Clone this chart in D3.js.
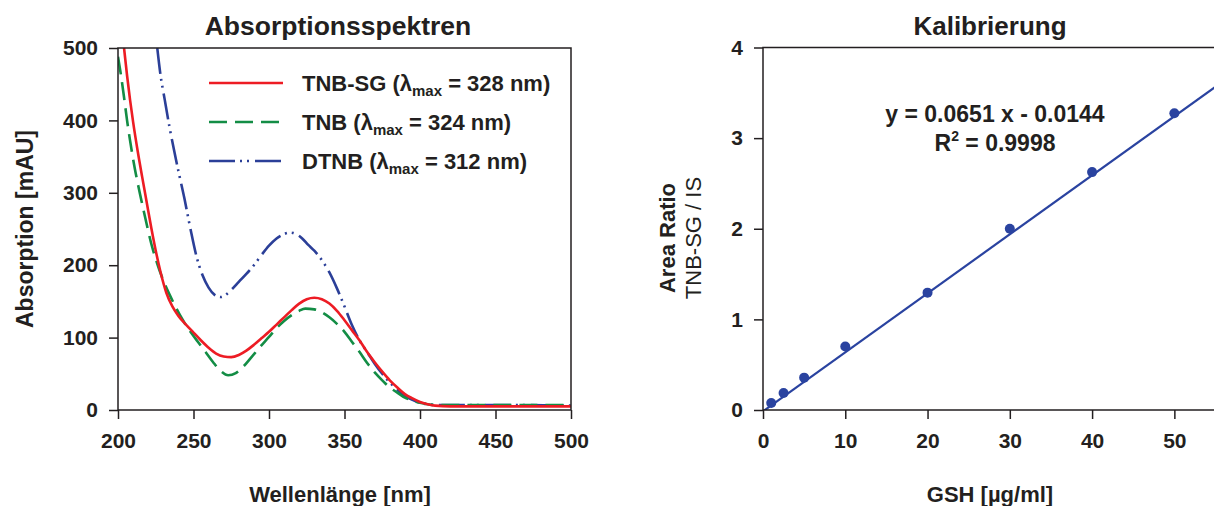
<!DOCTYPE html>
<html><head><meta charset="utf-8">
<script src="https://cdn.jsdelivr.net/npm/d3@7"></script>
<style>
body{margin:0;background:#fff;}
svg{display:block;font-family:"Liberation Sans",Arial,Helvetica,sans-serif;}
</style></head>
<body><svg id="c" width="1214" height="506"></svg>
<script>
// ---------- data: absorption spectra ----------
const tnbsgNm  = [204,206,208,210,213,216,219,222,225,228,232,236,240,245,250,255,260,265,270,275,280,285,290,295,300,305,310,315,320,325,330,335,340,345,350,355,360,365,370,375,380,385,390,395,400,405,410,420,450,500];
const tnbsgAbs = [500,462,428,398,358,322,287,252,220,192,162,143,130,118,107,96,86,78,74,73,76,82,90,99,108,118,128,138,147,153,155,153,147,137,124,110,96,80,66,53,41,31,22,16,11,8,6,5,5,5];
const tnbNm    = [200,202,204,206,208,211,214,218,222,226,230,234,238,243,248,253,258,263,268,273,278,283,288,294,300,305,310,315,320,324,330,335,340,345,350,355,360,365,370,375,380,385,390,395,400,405,410,450,500];
const tnbAbs   = [488,462,432,400,372,335,304,266,230,202,179,160,143,124,108,94,80,66,54,48,51,60,72,87,101,113,123,131,137,140,139,135,128,119,108,94,80,65,52,41,31,24,17,13,10,8,7,7,7];
const dtnbNm   = [226,228,231,234,237,240,244,248,252,256,260,264,268,272,276,280,285,290,295,300,305,310,314,318,322,326,330,335,340,345,350,355,360,365,370,375,380,385,390,395,400,405,410,450,500];
const dtnbAbs  = [500,465,428,392,360,330,292,250,212,186,169,159,156,160,168,177,188,200,214,227,237,243,245,243,237,228,220,207,190,168,143,117,96,80,64,50,38,28,19,14,10,8,7,7,6];
const spectraNames = ["TNB-SG", "TNB", "DTNB"];
const spectraLambda = ["328", "324", "312"];
const specXTicks = [200,250,300,350,400,450,500];
const specYTicks = [0,100,200,300,400,500];

// ---------- data: calibration ----------
const gshConc  = [1,2.5,5,10,20,30,40,50];
const areaRatio = [0.077,0.188,0.357,0.70,1.295,2.0,2.625,3.275];
const fitSlope = 0.0651, fitIntercept = -0.0144;
const calXTicks = [0,10,20,30,40,50];
const calYTicks = [0,1,2,3,4];

const svg = d3.select("#c");
const AX = "#231f20";
const FONT = '"Liberation Sans",Arial,Helvetica,sans-serif';
const colors = ["#ed1c24","#138d45","#2b3f98"];
const dashes = [null,"18,8","26,5,2,5,2,6"];

function styleAxis(g){
  g.selectAll("path.domain").remove();
  g.selectAll("line").attr("stroke",AX).attr("stroke-width",1.5);
  g.selectAll("text").attr("fill",AX).attr("font-size",21).attr("font-weight","bold").attr("font-family",FONT);
}

// ================= left panel =================
{
  const x = d3.scaleLinear().domain([200,500]).range([118,571]);
  const y = d3.scaleLinear().domain([0,500]).range([410,48]);
  const g = svg.append("g");
  g.append("clipPath").attr("id","clipL").append("rect")
    .attr("x",118).attr("y",48).attr("width",453).attr("height",362);

  const series = [[tnbsgNm,tnbsgAbs],[tnbNm,tnbAbs],[dtnbNm,dtnbAbs]];
  const line = d3.line().x(d=>x(d[0])).y(d=>y(d[1])).curve(d3.curveMonotoneX);
  [2,1,0].forEach(i=>{
    const pts = series[i][0].map((v,k)=>[v,series[i][1][k]]);
    g.append("path").attr("d",line(pts)).attr("fill","none")
      .attr("stroke",colors[i]).attr("stroke-width",2.6)
      .attr("stroke-dasharray",dashes[i]).attr("clip-path","url(#clipL)");
  });

  const ya = g.append("g").attr("transform","translate(118,0)")
    .call(d3.axisLeft(y).tickValues(specYTicks).tickSize(9).tickPadding(11).tickSizeOuter(0));
  styleAxis(ya);
  const xa = g.append("g").attr("transform","translate(0,410)")
    .call(d3.axisBottom(x).tickValues(specXTicks).tickSize(9).tickPadding(14).tickSizeOuter(0));
  styleAxis(xa);
  g.append("path").attr("d",`M118,410H571V48H118Z`).attr("fill","none").attr("stroke",AX).attr("stroke-width",1.5);

  g.append("text").attr("x",338).attr("y",35).attr("text-anchor","middle")
    .attr("font-size",26.5).attr("font-weight","bold").attr("fill",AX).text("Absorptionsspektren");
  g.append("text").attr("x",340).attr("y",502).attr("text-anchor","middle")
    .attr("font-size",22).attr("font-weight","bold").attr("fill",AX).text("Wellenlänge [nm]");
  g.append("text").attr("transform","translate(33,229) rotate(-90)").attr("text-anchor","middle")
    .attr("font-size",23).attr("font-weight","bold").attr("fill",AX).text("Absorption [mAU]");

  const ly = [83,122,161];
  spectraNames.forEach((n,i)=>{
    g.append("line").attr("x1",209).attr("x2",283).attr("y1",ly[i]).attr("y2",ly[i])
      .attr("stroke",colors[i]).attr("stroke-width",2.6).attr("stroke-dasharray",dashes[i]);
    const t = g.append("text").attr("x",302).attr("y",ly[i]+8).attr("font-size",22)
      .attr("font-weight","bold").attr("fill",AX);
    t.append("tspan").text(n+" (λ");
    t.append("tspan").attr("font-size",15).attr("dy",5).text("max");
    t.append("tspan").attr("dy",-5).text(" = "+spectraLambda[i]+" nm)");
  });
}

// ================= right panel =================
{
  const x = d3.scaleLinear().domain([0,55]).range([763,1215.5]);
  const y = d3.scaleLinear().domain([0,4]).range([410,47.5]);
  const g = svg.append("g");
  g.append("clipPath").attr("id","clipR").append("rect")
    .attr("x",763).attr("y",47.5).attr("width",452.5).attr("height",362.5);

  const fit = d3.line().x(d=>x(d)).y(d=>y(fitSlope*d+fitIntercept));
  g.append("path").attr("d",fit([0,55])).attr("fill","none").attr("stroke","#2a43a0")
    .attr("stroke-width",2.2).attr("clip-path","url(#clipR)");
  g.selectAll("circle.pt").data(gshConc).join("circle").attr("class","pt")
    .attr("cx",d=>x(d)).attr("cy",(d,i)=>y(areaRatio[i])).attr("r",5).attr("fill","#2a43a0");

  const ya = g.append("g").attr("transform","translate(763,0)")
    .call(d3.axisLeft(y).tickValues(calYTicks).tickFormat(d3.format("d")).tickSize(9).tickPadding(11).tickSizeOuter(0));
  styleAxis(ya);
  const xa = g.append("g").attr("transform","translate(0,410)")
    .call(d3.axisBottom(x).tickValues(calXTicks).tickFormat(d3.format("d")).tickSize(9).tickPadding(14).tickSizeOuter(0));
  styleAxis(xa);
  g.append("path").attr("d",`M1215.5,410H763V47.5H1215.5V410`).attr("fill","none").attr("stroke",AX).attr("stroke-width",1.5);

  g.append("text").attr("x",990).attr("y",35).attr("text-anchor","middle")
    .attr("font-size",26).attr("font-weight","bold").attr("fill",AX).text("Kalibrierung");
  g.append("text").attr("x",990).attr("y",502).attr("text-anchor","middle")
    .attr("font-size",22).attr("font-weight","bold").attr("fill",AX).text("GSH [µg/ml]");
  g.append("text").attr("transform","translate(675,238) rotate(-90)").attr("text-anchor","middle")
    .attr("font-size",22).attr("font-weight","bold").attr("fill",AX).text("Area Ratio");
  g.append("text").attr("transform","translate(701,238) rotate(-90)").attr("text-anchor","middle")
    .attr("font-size",22).attr("fill",AX).text("TNB-SG / IS");

  g.append("text").attr("x",995).attr("y",122).attr("text-anchor","middle")
    .attr("font-size",23).attr("font-weight","bold").attr("fill",AX)
    .text(`y = ${fitSlope} x - ${Math.abs(fitIntercept)}`);
  const r = g.append("text").attr("x",995).attr("y",151).attr("text-anchor","middle")
    .attr("font-size",23).attr("font-weight","bold").attr("fill",AX);
  r.append("tspan").text("R");
  r.append("tspan").attr("font-size",14).attr("dy",-10).text("2");
  r.append("tspan").attr("dy",10).text(" = 0.9998");
}
</script>
</body></html>
